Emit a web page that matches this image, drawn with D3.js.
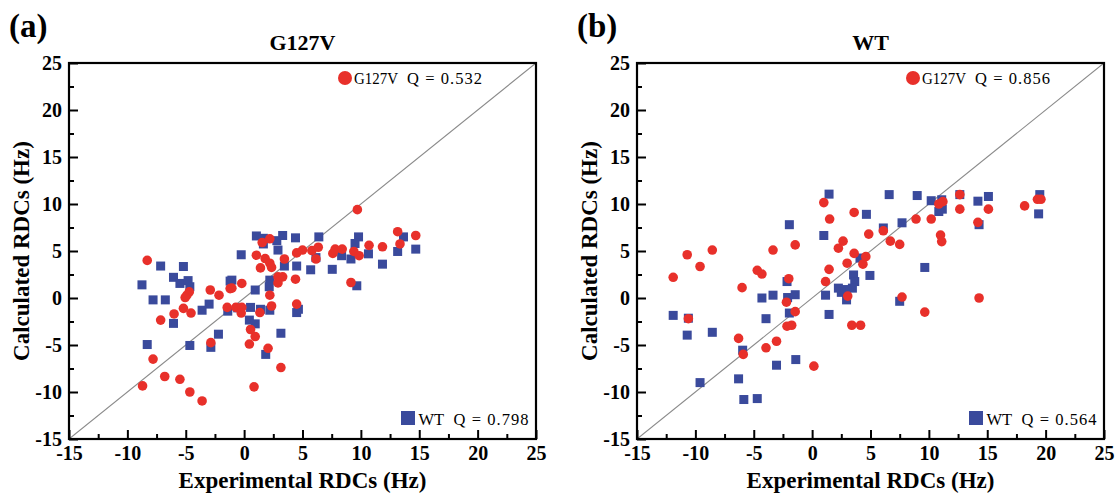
<!DOCTYPE html>
<html><head><meta charset="utf-8">
<script src="https://cdn.jsdelivr.net/npm/d3@7"></script>
<style>body{margin:0;background:#fff}svg{display:block}</style>
</head><body>
<svg id="chart" width="1118" height="495"></svg>
<script>
// ---- data ----
const axisTicks = [-15, -10, -5, 0, 5, 10, 15, 20, 25];
const minorTicks = [-12.5, -7.5, -2.5, 2.5, 7.5, 12.5, 17.5, 22.5];
const panelLabels = ["(a)", "(b)"];
const panelTitles = ["G127V", "WT"];
const seriesNames = ["G127V", "WT"];
const qValuesA = ["0.532", "0.798"];
const qValuesB = ["0.856", "0.564"];

const aG127V = [[-8.3,4.0],[-2.9,0.85],[-2.15,0.3],[-1.2,1.0],[-4.7,0.65],[-4.9,0.3],[-5.05,0.05],[-5.2,-1.1],[-4.55,-1.6],[-6.0,-1.7],[-7.15,-2.35],[-1.45,-1.0],[-2.85,-4.75],[-7.8,-6.5],[-6.8,-8.35],[-5.5,-8.65],[-8.7,-9.35],[-4.65,-10.0],[-3.6,-10.95],
[1.55,5.9],[2.2,6.3],[1.05,4.55],[1.8,4.2],[2.2,3.7],[2.35,3.25],[1.4,3.2],[3.45,4.15],[4.5,4.8],[5.0,5.1],[5.8,5.05],[6.35,5.4],[6.15,4.15],[7.6,4.75],[7.8,5.2],[8.4,5.2],[9.4,4.95],[9.85,4.5],[10.7,5.6],[11.85,5.45],[13.15,7.05],[13.35,5.75],[-0.2,1.55],[-1.05,1.05],[2.9,2.25],[3.3,2.25],[2.9,1.6],[4.4,2.0],[9.15,1.65],[2.2,0.3],[2.35,-0.85],[4.5,-0.65],[-0.7,-1.0],[-0.2,-1.0],[-0.25,-1.6],[1.35,-1.55],[0.55,-3.35],[0.95,-4.1],[0.45,-4.9],[2.05,-5.35],[3.15,-7.4],[0.85,-9.45],[14.7,6.65],[9.7,9.4]];
const aWT = [[-0.25,4.6],[-7.15,3.4],[-5.2,3.35],[-6.05,2.2],[-5.5,1.55],[-4.8,1.85],[-4.65,1.2],[-8.75,1.4],[-7.8,-0.2],[-6.75,-0.2],[-6.05,-2.7],[-3.6,-1.3],[-3.0,-0.65],[-1.2,1.8],[-1.4,-1.4],[-2.2,-3.85],[-4.65,-5.05],[-8.3,-4.95],[-2.85,-5.25],
[1.05,6.6],[1.65,6.35],[1.65,5.75],[2.8,6.1],[2.9,5.1],[3.3,6.65],[4.4,6.4],[6.4,6.5],[9.8,6.5],[9.5,5.8],[3.45,3.4],[4.5,3.4],[5.7,3.0],[7.55,3.05],[6.15,4.3],[8.35,4.5],[9.15,4.15],[10.65,4.7],[11.85,3.6],[13.15,4.95],[-1.05,1.9],[0.95,0.85],[2.2,1.9],[2.15,1.2],[2.2,-1.3],[0.55,-1.0],[1.4,-1.2],[0.45,-2.35],[0.95,-2.75],[3.15,-3.75],[1.85,-6.0],[4.65,-1.2],[4.5,-1.55],[9.65,1.3],[-0.55,-1.05],[13.65,6.5],[14.7,5.2]];

const bG127V = [[-11.9,2.2],[-10.7,4.6],[-9.6,3.35],[-8.55,5.1],[-10.6,-2.2],[-6.0,1.1],[-4.7,2.95],[-4.3,2.55],[-3.35,5.1],[-2.2,-0.45],[-2.0,2.05],[-2.15,-3.0],[-6.3,-4.3],[-5.9,-6.0],[-3.95,-5.3],[-3.05,-4.6],
[1.0,10.15],[3.6,9.1],[1.5,8.4],[-1.45,5.65],[2.65,6.05],[2.25,5.3],[3.6,4.75],[4.6,4.4],[4.85,6.8],[6.1,7.15],[6.7,6.05],[7.5,5.7],[8.9,8.4],[10.2,8.4],[11.0,6.7],[11.1,6.0],[10.85,10.0],[11.2,10.25],[3.0,3.7],[4.35,3.6],[1.45,3.05],[1.15,1.75],[-1.45,-1.45],[-1.75,-2.9],[3.05,0.2],[7.7,0.1],[9.65,-1.5],[3.4,-2.9],[4.15,-2.9],[0.15,-7.25],
[12.65,11.0],[12.65,9.45],[15.1,9.45],[14.2,8.05],[18.2,9.8],[19.3,10.5],[19.6,10.5],[14.3,0.0]];
const bWT = [[-11.9,-1.85],[-10.6,-2.15],[-10.7,-3.95],[-8.55,-3.65],[-9.6,-9.0],[-5.95,-5.55],[-6.3,-8.6],[-5.85,-10.8],[-4.7,-10.7],[-4.3,0.0],[-3.35,0.3],[-3.95,-2.2],[-3.05,-7.15],[-2.15,1.75],[-2.1,0.05],[-1.95,7.8],[-1.95,-1.6],
[1.0,6.65],[4.65,8.9],[6.1,7.45],[7.7,8.0],[4.1,4.25],[4.95,2.4],[3.55,2.45],[3.65,1.75],[3.45,1.05],[2.95,0.9],[2.25,1.05],[2.5,0.6],[2.95,-0.2],[1.15,0.3],[1.45,-1.75],[-1.45,0.35],[-1.4,-6.55],[7.5,-0.35],[9.65,3.25],[10.85,9.2],[11.15,9.45],[10.2,10.35],
[11.1,10.45],[12.65,11.0],[14.2,10.3],[15.1,10.8],[14.3,7.8],[19.5,11.0],[19.4,8.95],[1.45,11.05],[6.6,11.0],[9.0,10.9]];

const panels = [
  {label: panelLabels[0], title: panelTitles[0], red: aG127V, blue: aWT, q: qValuesA, dx: 0},
  {label: panelLabels[1], title: panelTitles[1], red: bG127V, blue: bWT, q: qValuesB, dx: 568}
];

const RED = "#e8302a", BLUE = "#3a4a9c";
const FONT = "'Liberation Serif','Times New Roman',serif";

const svg = d3.select("#chart");
svg.append("rect").attr("width",1118).attr("height",495).attr("fill","#fff");

const x = d3.scaleLinear().domain([-15,25]).range([69,536]);
const y = d3.scaleLinear().domain([-15,25]).range([439,63]);
const fmt = d => String(d);

panels.forEach((p,i) => {
  const g = svg.append("g").attr("transform",`translate(${p.dx},0)`);
  const cid = "clip"+i;
  g.append("clipPath").attr("id",cid).append("rect")
    .attr("x",x(-15)).attr("y",y(25)).attr("width",x(25)-x(-15)).attr("height",y(-15)-y(25));

  // diagonal
  g.append("line").attr("clip-path",`url(#${cid})`)
    .attr("x1",x(-15)).attr("y1",y(-15)).attr("x2",x(25)).attr("y2",y(25))
    .attr("stroke","#8a8a8a").attr("stroke-width",1.1);

  // axes
  const xa = g.append("g").attr("transform",`translate(0,${y(-15)})`)
    .call(d3.axisBottom(x).tickValues(axisTicks).tickSizeInner(-9).tickSizeOuter(0).tickPadding(7).tickFormat(fmt));
  const xm = g.append("g").attr("transform",`translate(0,${y(-15)})`)
    .call(d3.axisBottom(x).tickValues(minorTicks).tickSizeInner(-5).tickSizeOuter(0).tickFormat(""));
  const ya = g.append("g").attr("transform",`translate(${x(-15)},0)`)
    .call(d3.axisLeft(y).tickValues(axisTicks).tickSizeInner(-9).tickSizeOuter(0).tickPadding(7).tickFormat(fmt));
  const ym = g.append("g").attr("transform",`translate(${x(-15)},0)`)
    .call(d3.axisLeft(y).tickValues(minorTicks).tickSizeInner(-5).tickSizeOuter(0).tickFormat(""));
  [xa,xm,ya,ym].forEach(a => {
    a.attr("font-family",FONT).attr("font-size",null);
    a.select(".domain").remove();
    a.selectAll(".tick line").attr("stroke","#000").attr("stroke-width",2);
    a.selectAll(".tick text").attr("fill","#000").attr("font-family",FONT).attr("font-weight","bold").attr("font-size","20px");
  });

  // frame
  g.append("rect").attr("x",x(-15)).attr("y",y(25)).attr("width",x(25)-x(-15)).attr("height",y(-15)-y(25))
    .attr("fill","none").attr("stroke","#000").attr("stroke-width",2.2);

  // points
  const pts = g.append("g").attr("clip-path",`url(#${cid})`);
  pts.selectAll("rect.wt").data(p.blue).join("rect").attr("class","wt")
    .attr("x",d=>x(d[0])-4.5).attr("y",d=>y(d[1])-4.5).attr("width",9).attr("height",9).attr("fill",BLUE);
  pts.selectAll("circle.g").data(p.red).join("circle").attr("class","g")
    .attr("cx",d=>x(d[0])).attr("cy",d=>y(d[1])).attr("r",4.8).attr("fill",RED);

  // legends
  const lg = g.append("g").attr("font-family",FONT).attr("font-size","16.5px").attr("fill","#000");
  lg.append("circle").attr("cx",345).attr("cy",78).attr("r",7).attr("fill",RED);
  lg.append("text").attr("x",354).attr("y",84).attr("textLength",44).attr("lengthAdjust","spacingAndGlyphs").text(seriesNames[0]);
  lg.append("text").attr("x",407).attr("y",84).attr("textLength",75).attr("lengthAdjust","spacing").text("Q = " + p.q[0]);
  lg.append("rect").attr("x",401).attr("y",411).attr("width",14).attr("height",14).attr("fill",BLUE);
  lg.append("text").attr("x",418.5).attr("y",425).text(seriesNames[1]);
  lg.append("text").attr("x",453.5).attr("y",425).attr("textLength",75).attr("lengthAdjust","spacing").text("Q = " + p.q[1]);

  // titles
  g.append("text").attr("x",(x(-15)+x(25))/2).attr("y",50).attr("text-anchor","middle")
    .attr("font-family",FONT).attr("font-weight","bold").attr("font-size","22px").text(p.title);
  g.append("text").attr("x",9).attr("y",37)
    .attr("font-family",FONT).attr("font-weight","bold").attr("font-size","33px").text(p.label);
  g.append("text").attr("x",(x(-15)+x(25))/2).attr("y",488).attr("text-anchor","middle")
    .attr("font-family",FONT).attr("font-weight","bold").attr("font-size","23px").text("Experimental RDCs (Hz)");
  g.append("text").attr("transform",`translate(29,${(y(-15)+y(25))/2}) rotate(-90)`).attr("text-anchor","middle")
    .attr("font-family",FONT).attr("font-weight","bold").attr("font-size","23px").text("Calculated RDCs (Hz)");
});
</script>
</body></html>
